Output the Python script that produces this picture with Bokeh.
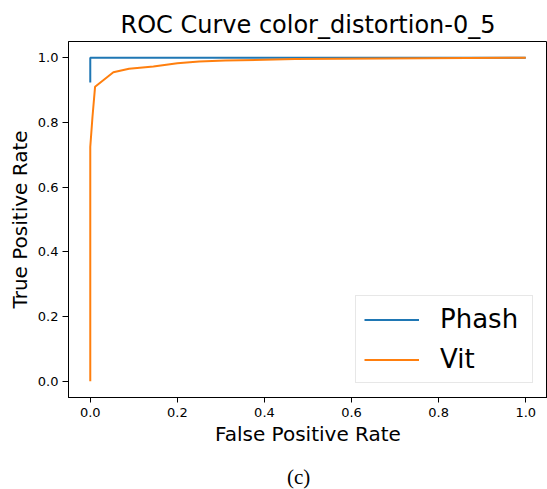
from bokeh.plotting import figure
from bokeh.layouts import column
from bokeh.models import Range1d, FixedTicker, Legend, LegendItem, Div
from bokeh.embed import file_html
from bokeh.resources import INLINE

# ---- data ----
phash_fpr = [0.0, 0.0, 1.0]
phash_tpr = [0.923, 1.0, 1.0]

vit_fpr = [0.0, 0.0, 0.0, 0.005, 0.011, 0.053, 0.089, 0.145, 0.2, 0.25, 0.31, 0.47, 1.0]
vit_tpr = [0.0, 0.47, 0.724, 0.816, 0.91, 0.955, 0.966, 0.973, 0.983, 0.988, 0.991, 0.996, 1.0]

tick_values = [0.0, 0.2, 0.4, 0.6, 0.8, 1.0]
tick_labels = ["0.0", "0.2", "0.4", "0.6", "0.8", "1.0"]

title_text = "ROC Curve color_distortion-0_5"
x_label = "False Positive Rate"
y_label = "True Positive Rate"
caption = "(c)"
series_names = ["Phash", "Vit"]
colors = ["#1f77b4", "#ff7f0e"]

FONT = "DejaVu Sans"

p = figure(width=547, height=449, output_backend="svg", toolbar_location=None,
           x_range=Range1d(-0.05, 1.05), y_range=Range1d(-0.05, 1.05),
           min_border_left=68, min_border_right=0, min_border_top=41, min_border_bottom=52,
           margin=(0, 0, 0, 0))

p.title.text = title_text
p.title.text_font = FONT
p.title.text_font_size = "24px"
p.title.text_font_style = "normal"
p.title.text_color = "black"
p.title.align = "center"
p.title.standoff = 6

p.outline_line_color = "black"
p.outline_line_width = 1
p.outline_line_alpha = 1
p.xgrid.visible = False
p.ygrid.visible = False
p.background_fill_color = "white"
p.border_fill_color = "white"

for ax, lab in ((p.xaxis[0], x_label), (p.yaxis[0], y_label)):
    ax.ticker = FixedTicker(ticks=tick_values)
    ax.major_label_overrides = {v: s for v, s in zip(tick_values, tick_labels)}
    ax.minor_tick_line_color = None
    ax.major_tick_in = 0
    ax.major_tick_out = 6
    ax.major_tick_line_color = "black"
    ax.axis_line_color = "black"
    ax.major_label_text_font = FONT
    ax.major_label_text_font_size = "13px"
    ax.major_label_text_color = "black"
    ax.axis_label = lab
    ax.axis_label_text_font = FONT
    ax.axis_label_text_font_size = "20px"
    ax.axis_label_text_font_style = "normal"
    ax.axis_label_text_color = "black"

p.xaxis[0].major_tick_out = 5
p.xaxis[0].major_label_standoff = 5
p.yaxis[0].major_label_standoff = 4
p.xaxis[0].axis_label_standoff = 2
p.yaxis[0].axis_label_standoff = 3

r1 = p.line(phash_fpr, phash_tpr, line_color=colors[0], line_width=2)
r2 = p.line(vit_fpr, vit_tpr, line_color=colors[1], line_width=2)

legend = Legend(items=[LegendItem(label=series_names[0], renderers=[r1]),
                       LegendItem(label=series_names[1], renderers=[r2])],
                location="bottom_right")
legend.label_text_font = FONT
legend.label_text_font_size = "26px"
legend.label_text_color = "black"
legend.glyph_width = 55
legend.glyph_height = 29
legend.label_height = 29
legend.label_width = 84
legend.label_standoff = 21
legend.spacing = 10
legend.padding = 8
legend.margin = 14
legend.border_line_color = "#d0d0d0"
legend.border_line_width = 1
legend.background_fill_alpha = 0.8
p.add_layout(legend, "center")

cap = Div(text=('<div style="position:absolute; left:287px; top:18px; '
                'font-family:\'Liberation Serif\'; font-size:21px; line-height:1; '
                'color:black; white-space:nowrap;">' + caption + '</div>'),
          width=547, height=40, margin=(0, 0, 0, 0),
          styles={"position": "relative", "background-color": "white"})

layout = column(p, cap, spacing=0)

open("out.html", "w").write(file_html(layout, INLINE))
